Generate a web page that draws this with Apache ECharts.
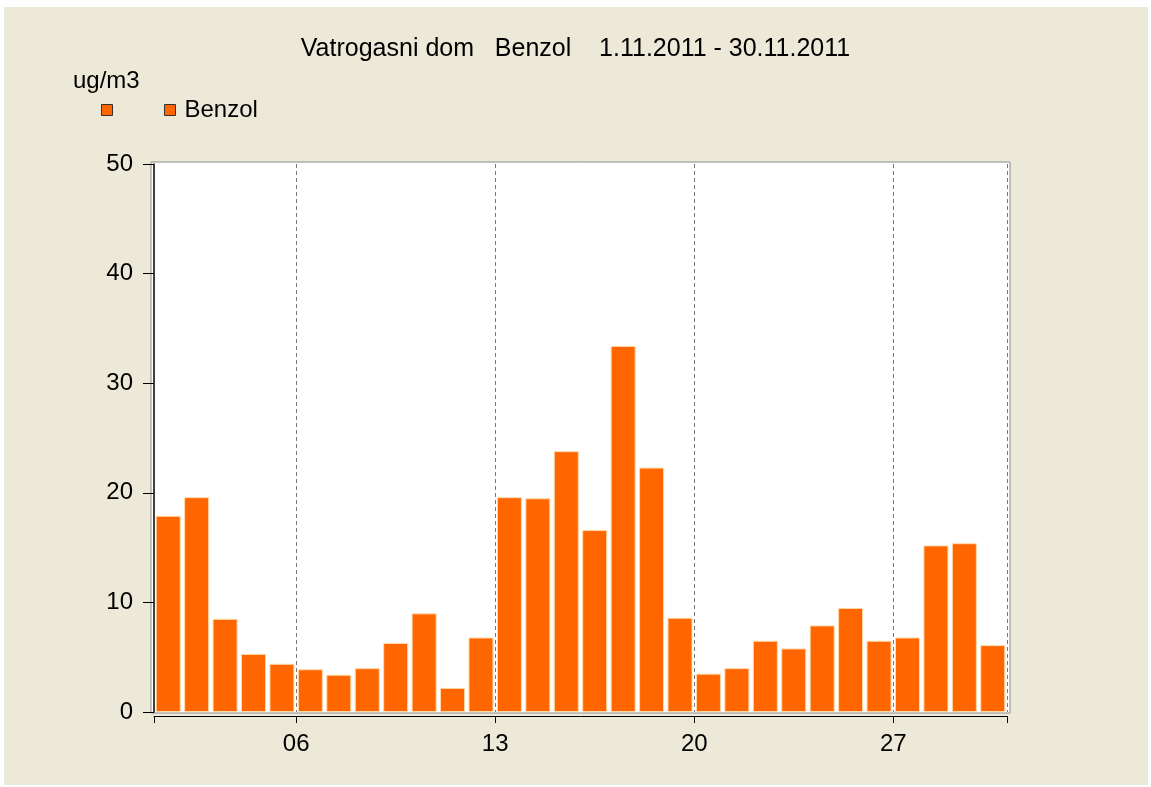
<!DOCTYPE html>
<html>
<head>
<meta charset="utf-8">
<title>Vatrogasni dom Benzol</title>
<script src="https://cdn.jsdelivr.net/npm/echarts@6/dist/echarts.min.js"></script>
<style>
html,body{margin:0;padding:0;background:#fff;}
#panel{position:absolute;left:4px;top:7px;width:1144px;height:778px;background:#ece9d8;}
#main{position:absolute;left:0;top:0;width:1151px;height:787px;}
</style>
</head>
<body>
<div id="panel"></div>
<div id="main"></div>
<script>
// dani u mjesecu (1.11. - 30.11.2011)
var days=['01','02','03','04','05','06','07','08','09','10','11','12','13','14','15',
          '16','17','18','19','20','21','22','23','24','25','26','27','28','29','30'];
// dnevne vrijednosti benzola, ug/m3
var benzol=[17.9,19.6,8.5,5.3,4.4,3.9,3.4,4.0,6.3,9.0,2.2,6.8,19.6,19.5,23.8,
            16.6,33.4,22.3,8.6,3.5,4.0,6.5,5.8,7.9,9.5,6.5,6.8,15.2,15.4,6.1];
var dayLabels=['06','13','20','27'];
var yMin=0, yMax=50, yStep=10;

var font='"Liberation Sans", Arial, sans-serif';
// oznaka dana stoji na pocetku tog dana (granica stupaca)
var labelPos=dayLabels.map(function (d) { return parseInt(d,10)-1; });
var tickPos=[0].concat(labelPos,[days.length]);

var myChart=echarts.init(document.getElementById('main'));
var option={
    animation:false,
    backgroundColor:'transparent',
    title:[
        {
            text:'Vatrogasni dom   Benzol    1.11.2011 - 30.11.2011',
            left:'center',
            top:37,
            padding:0,
            textStyle:{fontFamily:font,fontSize:25,fontWeight:'normal',color:'#000'}
        },
        {
            text:'ug/m3',
            left:73,
            top:69,
            padding:0,
            textStyle:{fontFamily:font,fontSize:24,fontWeight:'normal',color:'#000'}
        }
    ],
    legend:[
        {       // samo kvadratic, bez teksta
            left:101,
            top:104,
            padding:0,
            icon:'rect',
            itemWidth:11,
            itemHeight:11,
            selectedMode:false,
            formatter:function () { return ''; },
            itemStyle:{borderColor:'#333',borderWidth:1},
            data:['Benzol']
        },
        {
            left:164,
            top:98,
            padding:0,
            icon:'rect',
            itemWidth:11,
            itemHeight:11,
            selectedMode:false,
            itemStyle:{borderColor:'#333',borderWidth:1},
            textStyle:{fontFamily:font,fontSize:24,color:'#000',padding:[0,0,0,4]},
            data:['Benzol']
        }
    ],
    grid:{left:154,right:144,top:164,bottom:75},
    graphic:[
        {   // bijela podloga grafa
            type:'rect',
            z:-10,
            silent:true,
            shape:{x:151,y:162,width:859,height:551},
            style:{fill:'#fff',stroke:'#8c8c8c',lineWidth:1}
        }
    ],
    xAxis:[
        {
            type:'category',
            data:days,
            axisLine:{show:false},
            axisTick:{show:false},
            axisLabel:{show:false},
            splitLine:{
                show:true,
                interval:function (i) { return labelPos.indexOf(i)>=0; },
                lineStyle:{color:'#777',width:1,type:[4,3]}
            }
        },
        {
            type:'value',
            min:0,
            max:days.length,
            position:'bottom',
            offset:4,
            axisLine:{show:true,lineStyle:{color:'#000',width:1}},
            axisTick:{show:true,length:7,customValues:tickPos,lineStyle:{color:'#000'}},
            axisLabel:{
                customValues:labelPos,
                margin:16,
                fontFamily:font,
                fontSize:24,
                color:'#000',
                formatter:function (v) { return dayLabels[labelPos.indexOf(v)]; }
            },
            splitLine:{show:false}
        }
    ],
    yAxis:{
        type:'value',
        min:yMin,
        max:yMax,
        interval:yStep,
        offset:5,
        axisLine:{show:true,lineStyle:{color:'#000',width:1.5}},
        axisTick:{show:true,length:11,lineStyle:{color:'#000'}},
        axisLabel:{margin:16,fontFamily:font,fontSize:24,color:'#000'},
        splitLine:{show:false}
    },
    series:[
        {
            name:'Benzol',
            type:'bar',
            xAxisIndex:0,
            barWidth:25,
            data:benzol,
            itemStyle:{color:'#ff6600',borderColor:'#ffd8a8',borderWidth:1}
        }
    ]
};
myChart.setOption(option);
</script>
</body>
</html>
